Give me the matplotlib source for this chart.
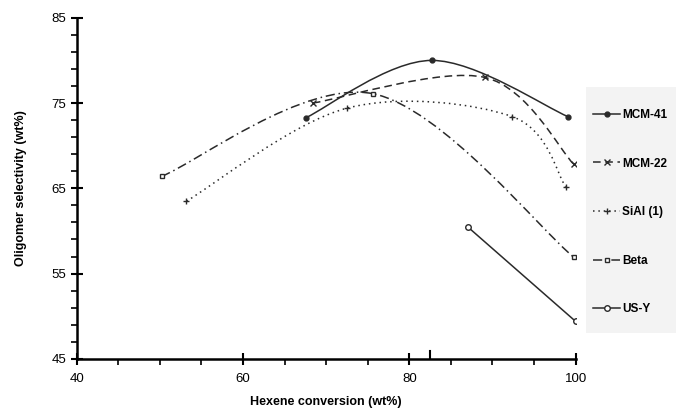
import matplotlib.pyplot as plt
from matplotlib.path import Path
from matplotlib.patches import PathPatch, Rectangle
from matplotlib.lines import Line2D
from matplotlib.ticker import MultipleLocator

plt.rcParams['font.family'] = ['Liberation Sans', 'DejaVu Sans']

# values
mcm41_x = [67.6, 82.7, 99.1]
mcm41_y = [73.3, 80.0, 73.4]
mcm22_x = [68.4, 89.1, 99.8]
mcm22_y = [75.0, 78.0, 67.8]
sial_x = [53.2, 72.5, 92.4, 98.8]
sial_y = [63.5, 74.4, 73.4, 65.2]
beta_x = [50.2, 75.6, 99.8]
beta_y = [66.4, 76.1, 56.9]
usy_x = [87.0, 100.0]
usy_y = [60.5, 49.4]
labels = ['MCM-41', 'MCM-22', 'SiAl (1)', 'Beta', 'US-Y']
peak_tick = 82.5

series = [(mcm41_x, mcm41_y), (mcm22_x, mcm22_y), (sial_x, sial_y),
          (beta_x, beta_y), (usy_x, usy_y)]

line_col = '#2a2a2a'
styles = [
    dict(ls='-', marker='o', mfc=line_col, ms=3.5),
    dict(ls=(0, (5, 3)), marker='x', mfc=line_col, ms=4),
    dict(ls=(0, (1, 2.5)), marker='+', mfc=line_col, ms=5),
    dict(ls=(0, (6, 2.5, 1, 2.5)), marker='s', mfc='white', ms=3.5),
    dict(ls='-', marker='o', mfc='white', ms=4),
]


def smooth_path(xs, ys):
    # smoothed line like a spreadsheet chart: bezier pieces through the points
    pts = list(zip(xs, ys))
    if len(pts) < 3:
        return Path(pts)
    verts = [pts[0]]
    codes = [Path.MOVETO]
    n = len(pts)
    for i in range(n - 1):
        p0 = pts[max(i - 1, 0)]
        p1 = pts[i]
        p2 = pts[i + 1]
        p3 = pts[min(i + 2, n - 1)]
        c1 = (p1[0] + (p2[0] - p0[0]) / 6, p1[1] + (p2[1] - p0[1]) / 6)
        c2 = (p2[0] - (p3[0] - p1[0]) / 6, p2[1] - (p3[1] - p1[1]) / 6)
        verts += [c1, c2, p2]
        codes += [Path.CURVE4] * 3
    return Path(verts, codes)


fig = plt.figure(figsize=(6.76, 4.13), dpi=100)
ax = fig.add_axes([0.1135, 0.131, 0.738, 0.826])

handles = []
for (xs, ys), st, lab in zip(series, styles, labels):
    ax.add_patch(PathPatch(smooth_path(xs, ys), fill=False, ec=line_col,
                           lw=1.1, ls=st['ls']))
    ax.plot(xs, ys, ls='none', marker=st['marker'], mfc=st['mfc'],
            mec=line_col, ms=st['ms'], mew=1.0)
    handles.append(Line2D([], [], color=line_col, lw=1.1, ls=st['ls'],
                          marker=st['marker'], mfc=st['mfc'], mec=line_col,
                          ms=st['ms'], mew=1.0))

ax.set_xlim(40, 100)
ax.set_ylim(45, 85)
ax.set_xticks([40, 60, 80, 100])
ax.set_yticks([45, 55, 65, 75, 85])
ax.xaxis.set_minor_locator(MultipleLocator(5))
ax.yaxis.set_minor_locator(MultipleLocator(2, offset=1))
ax.axvline(peak_tick, ymin=0, ymax=0.022, color='black', lw=1.5)

for s in ['top', 'right']:
    ax.spines[s].set_visible(False)
for s in ['left', 'bottom']:
    ax.spines[s].set_linewidth(1.8)
ax.tick_params(which='major', direction='inout', length=8, width=1.5,
               labelsize=9.5)
ax.tick_params(axis='x', which='major', pad=6)
ax.tick_params(which='minor', direction='out', length=4, width=1.2)

ax.set_xlabel('Hexene conversion (wt%)', fontsize=9, fontweight='bold',
              labelpad=8)
ax.set_ylabel('Oligomer selectivity (wt%)', fontsize=9, fontweight='bold',
              labelpad=18)

# grey panel behind the legend
fig.patches.append(Rectangle((586 / 676, 1 - 333 / 413), 90 / 676,
                             246 / 413, transform=fig.transFigure,
                             facecolor='#f3f3f3', edgecolor='none',
                             zorder=0))

leg = fig.legend(handles, labels, loc='upper left',
                 bbox_to_anchor=(593 / 676, 1 - 109 / 413),
                 prop={'weight': 'bold', 'size': 8.5},
                 handlelength=2.3, handletextpad=0.15, labelspacing=3.1,
                 borderpad=0, borderaxespad=0, frameon=False, numpoints=1)

fig.savefig('out.png', dpi=100)
